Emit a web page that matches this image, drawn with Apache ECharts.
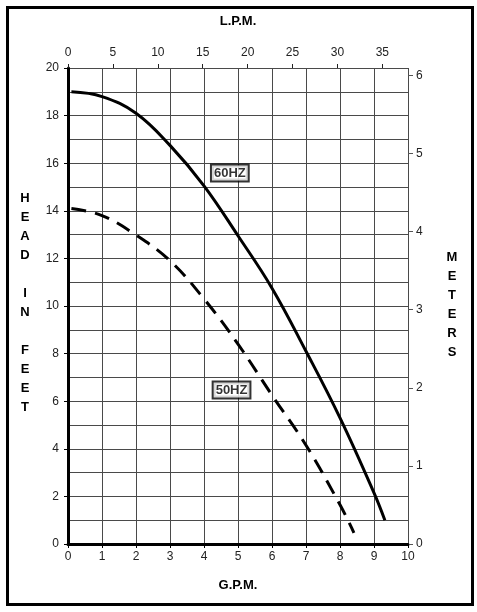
<!DOCTYPE html>
<html>
<head>
<meta charset="utf-8">
<script src="https://cdn.jsdelivr.net/npm/echarts@6/dist/echarts.min.js"></script>
<style>
  html, body { margin: 0; padding: 0; background: #fff; }
  #chart { width: 477px; height: 612px; }
</style>
</head>
<body>
<div id="chart"></div>
<script>
// curva 60 Hz (G.P.M. / pies)
const gpm60 = [0.1, 1, 2, 3, 4, 5, 6, 7, 8, 9, 9.32];
const head60 = [19.0, 18.8, 18.1, 16.75, 15.05, 12.95, 10.75, 8.1, 5.3, 2.15, 1.0];

// curva 50 Hz
const gpm50 = [0.1, 1, 2, 3, 4, 5, 6, 7, 8, 8.41];
const head50 = [14.1, 13.8, 12.98, 11.9, 10.3, 8.4, 6.25, 4.15, 1.65, 0.47];

// etiquetas de las curvas
const tagText = ['60HZ', '50HZ'];
const tagGpm = [4.76, 4.81];
const tagHead = [15.59, 6.47];

const GPM_MAX = 10;
const FEET_MAX = 20;
const LPM_PER_GPM = 3.78541;
const M_PER_FT = 0.3048;

const chart = echarts.init(document.getElementById('chart'));

const font = 'Liberation Sans, Arial, sans-serif';
const tickLabel = { color: '#222', fontSize: 12, fontFamily: font };
const gridLine = { lineStyle: { color: '#4a4a4a', width: 1 } };

const option = {
  animation: false,
  backgroundColor: '#fff',
  grid: { left: 68, right: 69, top: 68, bottom: 68 },
  xAxis: [
    {
      type: 'value', position: 'bottom', min: 0, max: GPM_MAX, interval: 1,
      axisLine: { show: true, onZero: false, lineStyle: { color: '#000', width: 3 } },
      axisTick: { show: true, length: 4, lineStyle: { color: '#000' } },
      axisLabel: Object.assign({ margin: 7 }, tickLabel),
      splitLine: Object.assign({ show: true }, gridLine)
    },
    {
      type: 'value', position: 'top', min: 0, max: GPM_MAX * LPM_PER_GPM, interval: 5,
      axisLine: { show: false, onZero: false },
      axisTick: { show: true, length: 4, lineStyle: { color: '#222' } },
      axisLabel: Object.assign({ margin: 9, showMaxLabel: false }, tickLabel),
      splitLine: { show: false }
    }
  ],
  yAxis: [
    {
      type: 'value', position: 'left', min: 0, max: FEET_MAX, interval: 2,
      axisLine: { show: true, onZero: false, lineStyle: { color: '#000', width: 3 } },
      axisTick: { show: true, length: 4, lineStyle: { color: '#000' } },
      axisLabel: Object.assign({ margin: 9 }, tickLabel),
      splitLine: Object.assign({ show: true }, gridLine),
      minorTick: { show: false, splitNumber: 2 },
      minorSplitLine: Object.assign({ show: true }, gridLine)
    },
    {
      type: 'value', position: 'right', min: 0, max: FEET_MAX * M_PER_FT, interval: 1,
      axisLine: { show: false, onZero: false },
      axisTick: { show: true, inside: false, length: 5, lineStyle: { color: '#555' } },
      axisLabel: Object.assign({ margin: 8, showMaxLabel: false }, tickLabel),
      splitLine: { show: false }
    }
  ],
  series: [
    {
      name: '60HZ', type: 'line', xAxisIndex: 0, yAxisIndex: 0,
      data: gpm60.map((g, i) => [g, head60[i]]),
      smooth: 0.4, showSymbol: false,
      lineStyle: { color: '#000', width: 3 }
    },
    {
      name: '50HZ', type: 'line', xAxisIndex: 0, yAxisIndex: 0,
      data: gpm50.map((g, i) => [g, head50[i]]),
      smooth: 0.4, showSymbol: false,
      lineStyle: { color: '#000', width: 3, type: [15, 9] }
    },
    {
      name: 'tags', type: 'scatter', xAxisIndex: 0, yAxisIndex: 0,
      symbolSize: 1, itemStyle: { color: 'transparent' },
      data: tagGpm.map((g, i) => ({ value: [g, tagHead[i]], name: tagText[i] })),
      label: {
        show: true, position: 'inside', formatter: '{b}',
        color: '#000', fontSize: 13, fontWeight: 'bold', fontFamily: font,
        backgroundColor: '#fff', borderColor: '#000', borderWidth: 2,
        padding: [2, 2, 0, 2]
      },
      z: 5
    }
  ],
  graphic: [
    {
      type: 'rect', left: 5, top: 5, silent: true,
      shape: { width: 465, height: 597 },
      style: { fill: 'none', stroke: '#000', lineWidth: 3 }
    },
    {
      type: 'text', x: 238, y: 21,
      style: { text: 'L.P.M.', font: 'bold 13px ' + font, fill: '#000', align: 'center', verticalAlign: 'middle' }
    },
    {
      type: 'text', x: 238, y: 585,
      style: { text: 'G.P.M.', font: 'bold 13px ' + font, fill: '#000', align: 'center', verticalAlign: 'middle' }
    },
    {
      type: 'text', x: 25, y: 303,
      style: {
        text: 'H\nE\nA\nD\n\nI\nN\n\nF\nE\nE\nT', font: 'bold 13px ' + font, lineHeight: 19,
        fill: '#000', align: 'center', verticalAlign: 'middle'
      }
    },
    {
      type: 'text', x: 452, y: 305,
      style: {
        text: 'M\nE\nT\nE\nR\nS', font: 'bold 13px ' + font, lineHeight: 19,
        fill: '#000', align: 'center', verticalAlign: 'middle'
      }
    }
  ]
};

chart.setOption(option);
</script>
</body>
</html>
